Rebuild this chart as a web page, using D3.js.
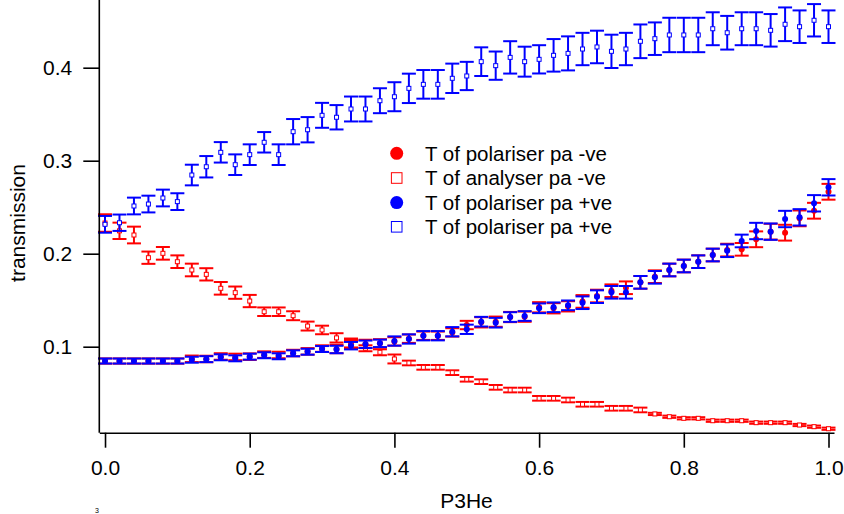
<!DOCTYPE html>
<html>
<head>
<meta charset="utf-8">
<script src="https://cdn.jsdelivr.net/npm/d3@7"></script>
<style>
  html, body { margin: 0; padding: 0; background: #fff; }
  svg { display: block; }
  text { font-family: "Liberation Sans", Arial, Helvetica, sans-serif; fill: #000; }
</style>
</head>
<body>
<svg id="chart" width="844" height="514"></svg>
<script>
// ---------- data ----------
const p3he = [0.00,0.02,0.04,0.06,0.08,0.10,0.12,0.14,0.16,0.18,0.20,0.22,0.24,0.26,0.28,0.30,0.32,0.34,0.36,0.38,0.40,0.42,0.44,0.46,0.48,0.50,0.52,0.54,0.56,0.58,0.60,0.62,0.64,0.66,0.68,0.70,0.72,0.74,0.76,0.78,0.80,0.82,0.84,0.86,0.88,0.90,0.92,0.94,0.96,0.98,1.00];

// T of polariser pa -ve (red filled circles)
const polNegT = [0.0846,0.0846,0.0846,0.0846,0.0846,0.0846,0.0870,0.0868,0.0895,0.0890,0.0893,0.0915,0.0911,0.0932,0.0950,0.0980,0.0975,0.1027,0.1030,0.1036,0.1057,0.1086,0.1118,0.1118,0.1154,0.1233,0.1262,0.1269,0.1319,0.1323,0.1424,0.1413,0.1434,0.1487,0.1545,0.1602,0.1634,0.1692,0.1753,0.1825,0.1868,0.1914,0.1986,0.2039,0.2047,0.2155,0.2237,0.2226,0.2380,0.2462,0.2666];
const polNegErr = [0.0028,0.0028,0.0028,0.0028,0.0028,0.0028,0.0035,0.0035,0.0035,0.0035,0.0035,0.0035,0.0035,0.0035,0.0035,0.0035,0.0045,0.0045,0.0045,0.0045,0.0045,0.0045,0.0045,0.0045,0.0045,0.0045,0.0055,0.0055,0.0055,0.0055,0.0055,0.0055,0.0055,0.0068,0.0068,0.0068,0.0068,0.0068,0.0068,0.0068,0.0068,0.0068,0.0068,0.0068,0.0068,0.0085,0.0085,0.0085,0.0085,0.0085,0.0085];

// T of analyser pa -ve (red open squares)
const anaNegT = [0.2330,0.2246,0.2201,0.1957,0.2004,0.1914,0.1825,0.1778,0.1628,0.1581,0.1491,0.1376,0.1376,0.1333,0.1222,0.1180,0.1095,0.1040,0.0983,0.0940,0.0868,0.0825,0.0778,0.0778,0.0721,0.0650,0.0624,0.0563,0.0534,0.0534,0.0445,0.0445,0.0427,0.0381,0.0381,0.0338,0.0338,0.0320,0.0277,0.0247,0.0230,0.0230,0.0204,0.0204,0.0204,0.0183,0.0183,0.0183,0.0158,0.0140,0.0118];
const anaNegErr = [0.0094,0.0088,0.0090,0.0066,0.0068,0.0068,0.0068,0.0066,0.0068,0.0066,0.0066,0.0046,0.0046,0.0048,0.0048,0.0046,0.0050,0.0048,0.0032,0.0032,0.0048,0.0025,0.0025,0.0025,0.0025,0.0025,0.0025,0.0025,0.0025,0.0025,0.0025,0.0025,0.0025,0.0025,0.0025,0.0025,0.0025,0.0025,0.0012,0.0012,0.0012,0.0012,0.0012,0.0012,0.0012,0.0012,0.0012,0.0012,0.0012,0.0012,0.0012];

// T of polariser pa +ve (blue filled circles)
const polPosT = [0.0846,0.0846,0.0846,0.0846,0.0846,0.0846,0.0860,0.0866,0.0886,0.0875,0.0893,0.0908,0.0897,0.0929,0.0946,0.0975,0.0970,0.1011,0.1026,0.1036,0.1061,0.1083,0.1118,0.1118,0.1161,0.1187,0.1269,0.1258,0.1319,0.1330,0.1413,0.1424,0.1445,0.1473,0.1538,0.1585,0.1585,0.1692,0.1746,0.1825,0.1868,0.1914,0.1986,0.2032,0.2137,0.2244,0.2237,0.2373,0.2391,0.2542,0.2714];
const polPosErr = [0.0027,0.0027,0.0027,0.0027,0.0027,0.0027,0.0032,0.0032,0.0032,0.0032,0.0032,0.0032,0.0032,0.0032,0.0032,0.0032,0.0040,0.0040,0.0040,0.0040,0.0050,0.0050,0.0050,0.0050,0.0050,0.0050,0.0052,0.0052,0.0052,0.0052,0.0052,0.0052,0.0052,0.0068,0.0068,0.0068,0.0068,0.0068,0.0068,0.0068,0.0068,0.0068,0.0068,0.0068,0.0068,0.0088,0.0088,0.0088,0.0088,0.0088,0.0088];

// T of polariser pa +ve (blue open squares)
const polPos2T = [0.2316,0.2333,0.2513,0.2534,0.2599,0.2560,0.2846,0.2935,0.3090,0.2957,0.3065,0.3198,0.3065,0.3312,0.3333,0.3488,0.3467,0.3556,0.3556,0.3645,0.3688,0.3778,0.3821,0.3821,0.3886,0.3911,0.4065,0.4022,0.4111,0.4065,0.4090,0.4133,0.4154,0.4201,0.4223,0.4176,0.4201,0.4284,0.4312,0.4352,0.4352,0.4352,0.4419,0.4376,0.4419,0.4419,0.4402,0.4467,0.4441,0.4510,0.4441];
const polPos2Err = [0.0090,0.0088,0.0090,0.0090,0.0090,0.0090,0.0111,0.0115,0.0110,0.0111,0.0111,0.0110,0.0111,0.0136,0.0136,0.0134,0.0131,0.0134,0.0134,0.0134,0.0156,0.0158,0.0154,0.0154,0.0158,0.0152,0.0154,0.0152,0.0174,0.0161,0.0152,0.0175,0.0183,0.0174,0.0175,0.0179,0.0174,0.0181,0.0175,0.0185,0.0185,0.0185,0.0177,0.0181,0.0177,0.0177,0.0175,0.0181,0.0175,0.0174,0.0175];

const xTicks = [0.0,0.2,0.4,0.6,0.8,1.0];
const yTicks = [0.1,0.2,0.3,0.4];
const seriesNames = ["T of polariser pa -ve","T of analyser pa -ve","T of polariser pa +ve","T of polariser pa +ve"];
const seriesColors = ["#ff0000","#ff0000","#0000ff","#0000ff"];
const seriesShapes = ["circle","square","circle","square"];
const xTitle = "P3He";
const yTitle = "transmission";

// ---------- drawing ----------
const svg = d3.select("#chart");
const x = d3.scaleLinear().domain([-0.0079, 1.0076]).range([99.3, 834]);
const y = d3.scaleLinear().domain([0.00753, 0.4728]).range([432.7, 0]);

const series = [
  {vals: polNegT, errs: polNegErr},
  {vals: anaNegT, errs: anaNegErr},
  {vals: polPosT, errs: polPosErr},
  {vals: polPos2T, errs: polPos2Err}
].map((s, i) => ({...s, name: seriesNames[i], color: seriesColors[i], shape: seriesShapes[i]}));

const capHalf = 7;
const plot = svg.append("g");
series.forEach(s => {
  const g = plot.append("g");
  const pts = p3he.map((xv, i) => ({x: xv, v: s.vals[i], e: s.errs[i]}));
  const eb = g.selectAll("g.eb").data(pts).enter().append("g")
    .attr("stroke", s.color).attr("stroke-width", 2).attr("fill", "none");
  eb.append("line").attr("x1", d => x(d.x)).attr("x2", d => x(d.x))
    .attr("y1", d => y(d.v - d.e)).attr("y2", d => y(d.v + d.e));
  eb.append("line").attr("x1", d => x(d.x) - capHalf).attr("x2", d => x(d.x) + capHalf)
    .attr("y1", d => y(d.v + d.e)).attr("y2", d => y(d.v + d.e));
  eb.append("line").attr("x1", d => x(d.x) - capHalf).attr("x2", d => x(d.x) + capHalf)
    .attr("y1", d => y(d.v - d.e)).attr("y2", d => y(d.v - d.e));
  if (s.shape === "circle") {
    g.selectAll("circle").data(pts).enter().append("circle")
      .attr("cx", d => x(d.x)).attr("cy", d => y(d.v)).attr("r", 3)
      .attr("fill", s.color);
  } else {
    const sz = 4;
    g.selectAll("rect").data(pts).enter().append("rect")
      .attr("x", d => x(d.x) - sz/2).attr("y", d => y(d.v) - sz/2)
      .attr("width", sz).attr("height", sz)
      .attr("fill", "#fff").attr("stroke", s.color).attr("stroke-width", 1);
  }
});

// axes
const fontSize = 21;
const xAxis = svg.append("g").attr("transform", "translate(0,432.7)")
  .call(d3.axisBottom(x).tickValues(xTicks).tickFormat(d3.format(".1f")).tickSize(15).tickSizeOuter(0).tickPadding(12));
const yAxis = svg.append("g").attr("transform", "translate(99.3,0)")
  .call(d3.axisLeft(y).tickValues(yTicks).tickFormat(d3.format(".1f")).tickSize(16).tickSizeOuter(0).tickPadding(11));
[xAxis, yAxis].forEach(a => {
  a.select(".domain").attr("stroke", "#000").attr("stroke-width", 1.6);
  a.selectAll(".tick line").attr("stroke", "#000").attr("stroke-width", 1.6);
  a.selectAll(".tick text").attr("font-size", fontSize).attr("fill", "#000")
    .attr("font-family", "'Liberation Sans', Arial, Helvetica, sans-serif");
});
// y axis extends to the top edge
yAxis.select(".domain").attr("d", "M0,432.7V0");

svg.append("text").attr("x", 466.5).attr("y", 507.5).attr("text-anchor", "middle")
  .attr("font-size", fontSize).text(xTitle);
svg.append("text").attr("transform", "translate(25,223) rotate(-90)")
  .attr("text-anchor", "middle").attr("font-size", fontSize).text(yTitle);
svg.append("text").attr("x", 97).attr("y", 512.5).attr("text-anchor", "middle")
  .attr("font-size", 7).text("3");

// legend
const legendY = [153.3, 178.0, 202.6, 226.8];
const lg = svg.append("g");
series.forEach((s, i) => {
  const cy = legendY[i];
  if (s.shape === "circle") {
    lg.append("circle").attr("cx", 396.7).attr("cy", cy).attr("r", 6.5).attr("fill", s.color);
  } else {
    lg.append("rect").attr("x", 396.7 - 5.3).attr("y", cy - 5.3).attr("width", 10.6).attr("height", 10.6)
      .attr("fill", "#fff").attr("stroke", s.color).attr("stroke-width", 1);
  }
  lg.append("text").attr("x", 425).attr("y", cy).attr("dy", "0.36em")
    .attr("font-size", 20.5).text(s.name);
});
</script>
</body>
</html>
